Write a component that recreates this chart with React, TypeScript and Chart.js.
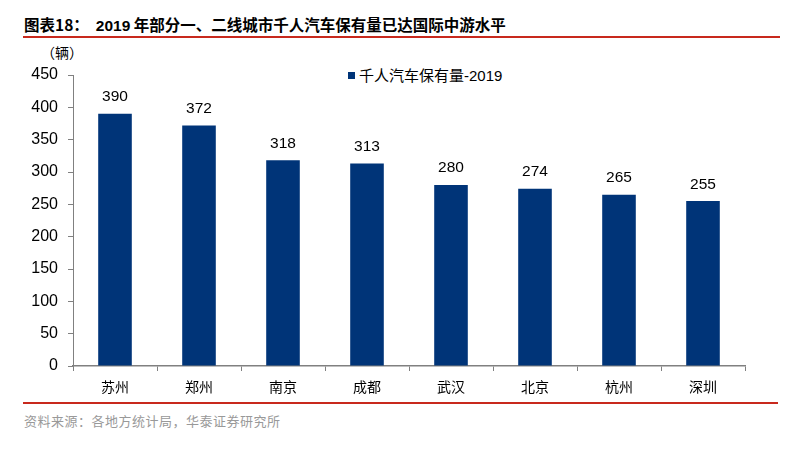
import { useEffect, useRef } from "react";
import { Chart, registerables } from "chart.js";

Chart.register(...registerables);

const CITIES = ["苏州", "郑州", "南京", "成都", "武汉", "北京", "杭州", "深圳"];
const CARS_PER_1000 = [390, 372, 318, 313, 280, 274, 265, 255];
const Y_TICKS = [0, 50, 100, 150, 200, 250, 300, 350, 400, 450];
const SERIES_NAME = "千人汽车保有量-2019";

const BAR = "#003478";
const AXIS = "#808080";
const RED = "#c8291d";
const CJK = '"Noto Sans CJK SC", "Noto Sans", sans-serif';
const LATIN = '"Liberation Sans", Arial, sans-serif';

// value labels above each bar
const valueLabels = {
  id: "valueLabels",
  afterDatasetsDraw(chart: any) {
    const ctx = chart.ctx;
    const meta = chart.getDatasetMeta(0);
    ctx.save();
    ctx.font = `15.5px ${LATIN}`;
    ctx.fillStyle = "#000";
    ctx.textAlign = "center";
    ctx.textBaseline = "bottom";
    meta.data.forEach((bar: any, i: number) => {
      ctx.fillText(String(CARS_PER_1000[i]), bar.x, bar.y - 9);
    });
    ctx.restore();
  },
};

export default function App() {
  const canvasRef = useRef<HTMLCanvasElement>(null);

  useEffect(() => {
    if (!canvasRef.current) return;
    const chart = new Chart(canvasRef.current, {
      type: "bar",
      data: {
        labels: CITIES,
        datasets: [
          {
            label: SERIES_NAME,
            data: CARS_PER_1000,
            backgroundColor: BAR,
            borderWidth: 0,
            barPercentage: 0.4,
            categoryPercentage: 1,
          },
        ],
      },
      options: {
        animation: false,
        responsive: false,
        maintainAspectRatio: false,
        layout: { padding: { left: 0, right: 44, top: 35, bottom: 0 } },
        plugins: {
          legend: { display: false },
          tooltip: { enabled: false },
        },
        scales: {
          x: {
            grid: {
              display: true,
              drawOnChartArea: false,
              drawTicks: true,
              tickLength: 5,
              color: AXIS,
              offset: true,
            },
            border: { display: true, color: AXIS, width: 1.5 },
            ticks: {
              color: "#000",
              padding: 7,
              font: { family: CJK, size: 14 },
            },
            afterFit: (scale: any) => {
              scale.height = 34;
            },
          },
          y: {
            min: 0,
            max: 450,
            afterBuildTicks: (scale: any) => {
              scale.ticks = Y_TICKS.map((v) => ({ value: v }));
            },
            grid: {
              display: true,
              drawOnChartArea: false,
              drawTicks: true,
              tickLength: 5,
              color: AXIS,
            },
            border: { display: true, color: AXIS, width: 1 },
            ticks: {
              color: "#000",
              padding: 10,
              font: { family: LATIN, size: 16 },
            },
            afterFit: (scale: any) => {
              scale.width = 73;
            },
          },
        },
      },
      plugins: [valueLabels],
    });
    return () => chart.destroy();
  }, []);

  return (
    <div
      style={{
        position: "absolute",
        left: 0,
        top: 0,
        width: 789,
        height: 450,
        background: "#fff",
        overflow: "hidden",
      }}
    >
      <div
        style={{
          position: "absolute",
          left: 24,
          top: 14,
          fontFamily: CJK,
          fontWeight: 700,
          fontSize: 15.5,
          color: "#000",
          whiteSpace: "pre",
          lineHeight: "20px",
        }}
      >
        {"图表18：  "}
        <span style={{ fontFamily: LATIN }}>2019</span>
        {" 年部分一、二线城市千人汽车保有量已达国际中游水平"}
      </div>
      <div style={{ position: "absolute", left: 23, top: 36, width: 757, height: 2, background: RED }} />
      <div
        style={{
          position: "absolute",
          left: 41,
          top: 43,
          fontFamily: CJK,
          fontSize: 14,
          color: "#000",
          lineHeight: "18px",
        }}
      >
        （辆）
      </div>
      <div
        style={{
          position: "absolute",
          left: 348,
          top: 65,
          display: "flex",
          alignItems: "center",
          gap: 4,
          fontFamily: CJK,
          fontSize: 15,
          color: "#000",
          lineHeight: "20px",
        }}
      >
        <span style={{ display: "inline-block", width: 7, height: 7, background: BAR }} />
        <span>
          千人汽车保有量<span style={{ fontFamily: LATIN }}>-2019</span>
        </span>
      </div>
      <canvas
        ref={canvasRef}
        width={789}
        height={360}
        style={{ position: "absolute", left: 0, top: 40, width: 789, height: 360 }}
      />
      <div style={{ position: "absolute", left: 23, top: 402, width: 755, height: 1.5, background: RED }} />
      <div
        style={{
          position: "absolute",
          left: 24,
          top: 412,
          fontFamily: CJK,
          fontSize: 13,
          letterSpacing: 0.5,
          color: "#999",
          lineHeight: "18px",
        }}
      >
        资料来源：各地方统计局，华泰证券研究所
      </div>
    </div>
  );
}
